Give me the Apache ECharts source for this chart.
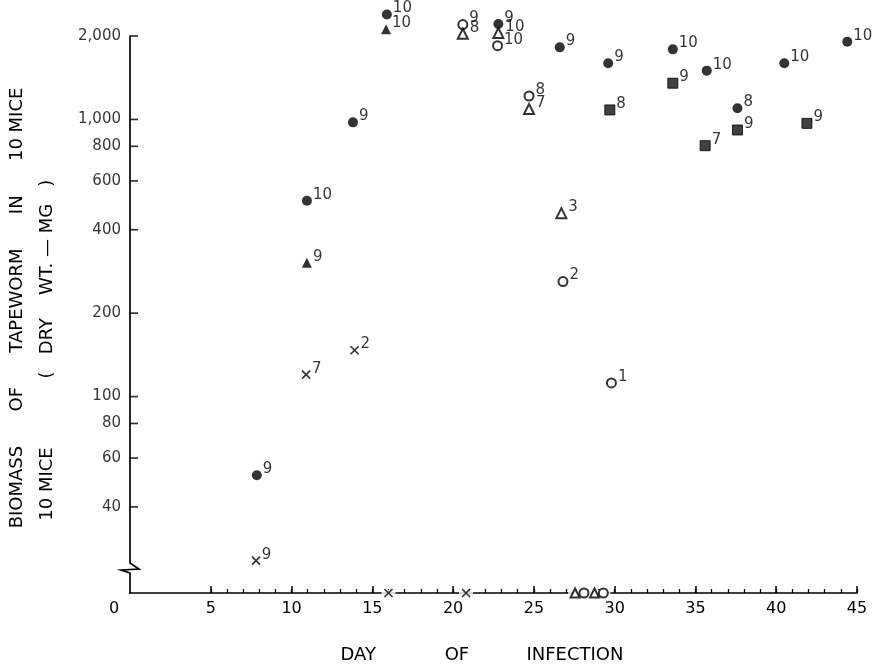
<!DOCTYPE html>
<html><head><meta charset="utf-8">
<script src="https://cdn.jsdelivr.net/npm/echarts@6.0.0/dist/echarts.min.js"></script>
<style>html,body{margin:0;padding:0;background:#fff}#c{width:879px;height:666px}</style>
</head><body><div id="c"></div>
<script>
// ---- tick labels ----
const yTickValues = [40, 60, 80, 100, 200, 400, 600, 800, 1000, 2000];
const xLabelValues = [0, 5, 10, 15, 20, 25, 30, 35, 40, 45];
const xMajorTicks = [5, 10, 15, 20, 25, 30, 35, 40, 45];
const xMinorTicks = [5,6,7,8,9,10,11,12,13,14,15,16,17,18,19,20,21,22,23,24,25,26,27,28,29,30,31,32,33,34,35,36,37,38,39,40,41,42,43,44,45];

// ---- series values (day, biomass mg, number of mice) ----
const filledCircleDays = [7.85, 10.95, 13.8, 15.9, 22.8, 26.6, 29.6, 33.6, 35.7, 37.6, 40.5, 44.4];
const filledCircleVals = [52, 509, 976, 2390, 2210, 1820, 1594, 1790, 1500, 1097, 1594, 1908];
const filledCircleN    = [9, 10, 9, 10, 9, 9, 9, 10, 10, 8, 10, 10];

const filledTriangleDays = [10.95, 15.85];
const filledTriangleVals = [304, 2115];
const filledTriangleN    = [9, 10];

const openCircleDays = [20.6, 22.75, 24.7, 26.8, 29.8];
const openCircleVals = [2200, 1845, 1215, 260, 112];
const openCircleN    = [9, 10, 8, 2, 1];

const openTriangleDays = [20.6, 22.8, 24.7, 26.7];
const openTriangleVals = [2038, 2050, 1090, 459];
const openTriangleN    = [8, 10, 7, 3];

const filledSquareDays = [29.7, 33.6, 35.6, 37.6, 41.9];
const filledSquareVals = [1082, 1351, 804, 916, 968];
const filledSquareN    = [8, 9, 7, 9, 9];

const crossDays = [7.8, 10.9, 13.9];
const crossVals = [25.6, 120, 147];
const crossN    = [9, 7, 2];

// points with zero biomass (drawn on the day axis)
const crossZeroDays = [16, 20.8];
const openTriangleZeroDays = [27.55, 28.75];
const openCircleZeroDays = [28.1, 29.3];

const F = 'DejaVu Sans';
const ink = '#000';
const crossPath = 'path://M0,0L10,10M10,0L0,10';

function pts(days, vals, ns) { return days.map((d, i) => [d, vals[i], ns[i]]); }
const lbl = { show: true, position: 'right', distance: 1, offset: [0, -6],
  formatter: p => String(p.value[2]), fontFamily: F, fontSize: 15, color: ink };

function sc(name, symbol, size, data, itemStyle) {
  return { type: 'scatter', name, xAxisIndex: 0, yAxisIndex: 0, symbol, symbolSize: size,
    data, clip: false, label: lbl, itemStyle, z: 5, silent: true };
}
function zero(name, symbol, size, days, itemStyle, z) {
  return { type: 'scatter', name, xAxisIndex: 1, yAxisIndex: 1, symbol, symbolSize: size,
    data: days.map(d => [d, 0]), clip: false, itemStyle, z, silent: true };
}

const chart = echarts.init(document.getElementById('c'), null, { renderer: 'canvas' });
const axLine = { show: true, lineStyle: { color: ink, width: 1.7 } };

chart.setOption({
  animation: false,
  backgroundColor: '#fff',
  grid: [
    { left: 130, right: 22, top: 36, bottom: 103 },
    { left: 130, right: 22, top: 573, bottom: 73 }
  ],
  xAxis: [
    { gridIndex: 0, type: 'value', min: 0, max: 45, show: false },
    { gridIndex: 1, type: 'value', min: 0, max: 45, position: 'bottom',
      axisLine: axLine,
      axisTick: { show: true, inside: true, length: 7, customValues: xMajorTicks, lineStyle: { color: ink, width: 1.5 } },
      axisLabel: { customValues: xLabelValues, margin: 8, fontFamily: F, fontSize: 16, color: ink,
        formatter: v => v === 0 ? '{o|0}' : String(v),
        rich: { o: { fontFamily: F, fontSize: 16, color: ink, padding: [0, 32, 0, 0] } } },
      splitLine: { show: false },
      name: 'DAY            OF          INFECTION', nameLocation: 'middle', nameGap: 53,
      nameTextStyle: { fontFamily: F, fontSize: 18, color: ink, padding: [0, 23, 0, 0] } },
    { gridIndex: 1, type: 'value', min: 0, max: 45, position: 'bottom',
      axisLine: { show: false },
      axisTick: { show: true, inside: true, length: 4, customValues: xMinorTicks, lineStyle: { color: ink, width: 1.3 } },
      axisLabel: { show: false }, splitLine: { show: false } }
  ],
  yAxis: [
    { gridIndex: 0, type: 'log', logBase: 10, min: 25.1, max: 2000,
      axisLine: axLine, axisTick: { show: false }, axisLabel: { show: false }, splitLine: { show: false } },
    { gridIndex: 1, type: 'value', min: 0, max: 1,
      axisLine: axLine, axisTick: { show: false }, axisLabel: { show: false }, splitLine: { show: false } }
  ],
  series: [
    { type: 'scatter', name: 'yTicks', xAxisIndex: 0, yAxisIndex: 0, symbol: 'rect', symbolSize: [8, 1.7],
      symbolOffset: [4, 0], clip: false, silent: true, z: 3,
      data: yTickValues.map(v => [0, v]), itemStyle: { color: ink },
      label: { show: true, position: 'left', distance: 9, fontFamily: F, fontSize: 15, color: ink,
        formatter: p => p.value[1].toLocaleString('en-US') } },
    sc('filled circle', 'circle', 10, pts(filledCircleDays, filledCircleVals, filledCircleN), { color: ink }),
    sc('filled triangle', 'triangle', 10, pts(filledTriangleDays, filledTriangleVals, filledTriangleN), { color: ink }),
    sc('open circle', 'emptyCircle', 9, pts(openCircleDays, openCircleVals, openCircleN), { color: ink, borderWidth: 1.6 }),
    sc('open triangle', 'emptyTriangle', 10, pts(openTriangleDays, openTriangleVals, openTriangleN), { color: ink, borderWidth: 1.6 }),
    sc('filled square', 'rect', 10, pts(filledSquareDays, filledSquareVals, filledSquareN), { color: '#111', borderColor: ink, borderWidth: 1 }),
    sc('cross', crossPath, 8, pts(crossDays, crossVals, crossN), { color: 'rgba(0,0,0,0)', borderColor: ink, borderWidth: 1.7 }),
    zero('axis gap', 'rect', [14, 6], crossZeroDays.concat(openTriangleZeroDays, openCircleZeroDays), { color: '#fff' }, 3),
    zero('cross zero', crossPath, 8, crossZeroDays, { color: 'rgba(0,0,0,0)', borderColor: ink, borderWidth: 1.7 }, 5),
    zero('open triangle zero', 'emptyTriangle', 9, openTriangleZeroDays, { color: ink, borderWidth: 1.6 }, 5),
    zero('open circle zero', 'emptyCircle', 9, openCircleZeroDays, { color: ink, borderWidth: 1.6 }, 5)
  ],
  graphic: [
    { type: 'polyline', shape: { points: [[130, 563], [139, 569], [121, 570], [130, 573]] },
      style: { stroke: ink, lineWidth: 1.7, fill: null }, z: 10 },
    { type: 'text', x: 17, y: 308, rotation: Math.PI / 2,
      style: { text: 'BIOMASS      OF      TAPEWORM      IN      10 MICE', fontFamily: F, fontSize: 18, fill: ink, align: 'center', verticalAlign: 'middle' } },
    { type: 'text', x: 47, y: 484, rotation: Math.PI / 2,
      style: { text: '10 MICE', fontFamily: F, fontSize: 18, fill: ink, align: 'center', verticalAlign: 'middle' } },
    { type: 'text', x: 47, y: 279, rotation: Math.PI / 2,
      style: { text: '(   DRY    WT. — MG   )', fontFamily: F, fontSize: 18, fill: ink, align: 'center', verticalAlign: 'middle' } }
  ]
});
</script>
</body></html>
